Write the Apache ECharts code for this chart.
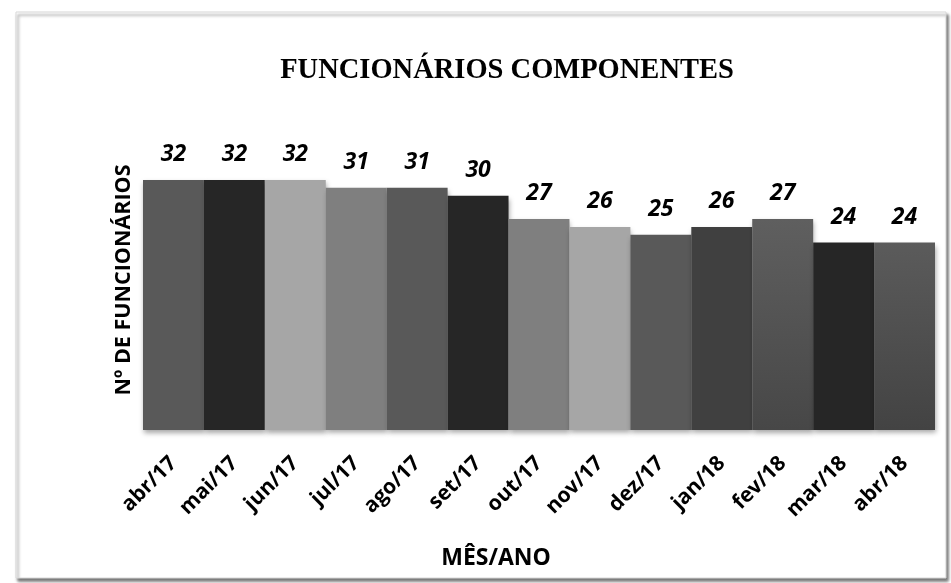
<!DOCTYPE html>
<html lang="pt">
<head>
    <meta charset="UTF-8">
    <title>Funcionários componentes</title>
    <script src="https://cdn.jsdelivr.net/npm/echarts@6/dist/echarts.min.js"></script>
    <style>
        html, body { margin: 0; padding: 0; background: #fff; }
    </style>
</head>
<body>
<div id="echart" style="width:951px;height:583px"></div>
<script>
    // dados
    var meses = ['abr/17', 'mai/17', 'jun/17', 'jul/17', 'ago/17', 'set/17', 'out/17',
        'nov/17', 'dez/17', 'jan/18', 'fev/18', 'mar/18', 'abr/18']
    var funcionarios = [32, 32, 32, 31, 31, 30, 27, 26, 25, 26, 27, 24, 24]
    var cores = ['#595959', '#262626', '#a6a6a6', '#7f7f7f', '#595959', '#262626', '#7f7f7f',
        '#a6a6a6', '#595959', '#404040', ['#5f5f5f', '#474747'], '#262626', ['#5b5b5b', '#434343']]

    var myChart = echarts.init(document.getElementById('echart'))

    var barData = []
    for (var i = 0; i < funcionarios.length; i++) {
        var c = cores[i]
        var color = c
        if (Array.isArray(c)) {
            color = new echarts.graphic.LinearGradient(0, 0, 0, 1, [
                {offset: 0, color: c[0]},
                {offset: 1, color: c[1]}
            ])
        }
        barData.push({value: funcionarios[i], itemStyle: {color: color}})
    }

    var boldFont = '"Open Sans", sans-serif'

    myChart.setOption({
        animation: false,
        backgroundColor: '#fff',
        graphic: [{
            type: 'rect',
            z: -10,
            shape: {x: 16, y: 12, width: 930, height: 566},
            style: {
                fill: '#fff',
                stroke: '#d9d9d9',
                lineWidth: 1,
                shadowColor: 'rgba(0,0,0,0.55)',
                shadowBlur: 3,
                shadowOffsetX: 2,
                shadowOffsetY: 3
            },
            silent: true
        }],
        title: [{
            text: 'FUNCIONÁRIOS COMPONENTES',
            left: 502,
            top: 51,
            textAlign: 'center',
            textStyle: {
                fontFamily: '"Liberation Serif", "DejaVu Serif", serif',
                fontWeight: 'bold',
                fontSize: 28.5,
                color: '#000'
            }
        }, {
            text: 'MÊS/ANO',
            left: 491,
            top: 542,
            textAlign: 'center',
            textStyle: {
                fontFamily: boldFont,
                fontWeight: 'bold',
                fontSize: 23,
                color: '#000'
            }
        }],
        grid: {
            left: 143,
            right: 16,
            top: 130,
            bottom: 153
        },
        xAxis: {
            type: 'category',
            data: meses,
            axisLine: {show: false},
            axisTick: {show: false},
            axisLabel: {
                rotate: 45,
                margin: 30,
                interval: 0,
                fontFamily: boldFont,
                fontWeight: 'bold',
                fontSize: 21,
                color: '#000'
            }
        },
        yAxis: {
            type: 'value',
            min: 0,
            max: 38.4,
            name: 'Nº DE FUNCIONÁRIOS',
            nameLocation: 'middle',
            nameRotate: 90,
            nameGap: 8,
            nameTextStyle: {
                fontFamily: boldFont,
                fontWeight: 'bold',
                fontSize: 21.5,
                color: '#000'
            },
            axisLine: {show: false},
            axisTick: {show: false},
            axisLabel: {show: false},
            splitLine: {show: false}
        },
        series: [{
            type: 'bar',
            data: barData,
            barCategoryGap: 0,
            itemStyle: {
                shadowColor: 'rgba(0,0,0,0.35)',
                shadowBlur: 5,
                shadowOffsetX: 1,
                shadowOffsetY: 3
            },
            label: {
                show: true,
                position: 'top',
                distance: 14,
                fontFamily: boldFont,
                fontWeight: 'bold',
                fontStyle: 'italic',
                fontSize: 23,
                color: '#000'
            }
        }]
    })
</script>
</body>
</html>
